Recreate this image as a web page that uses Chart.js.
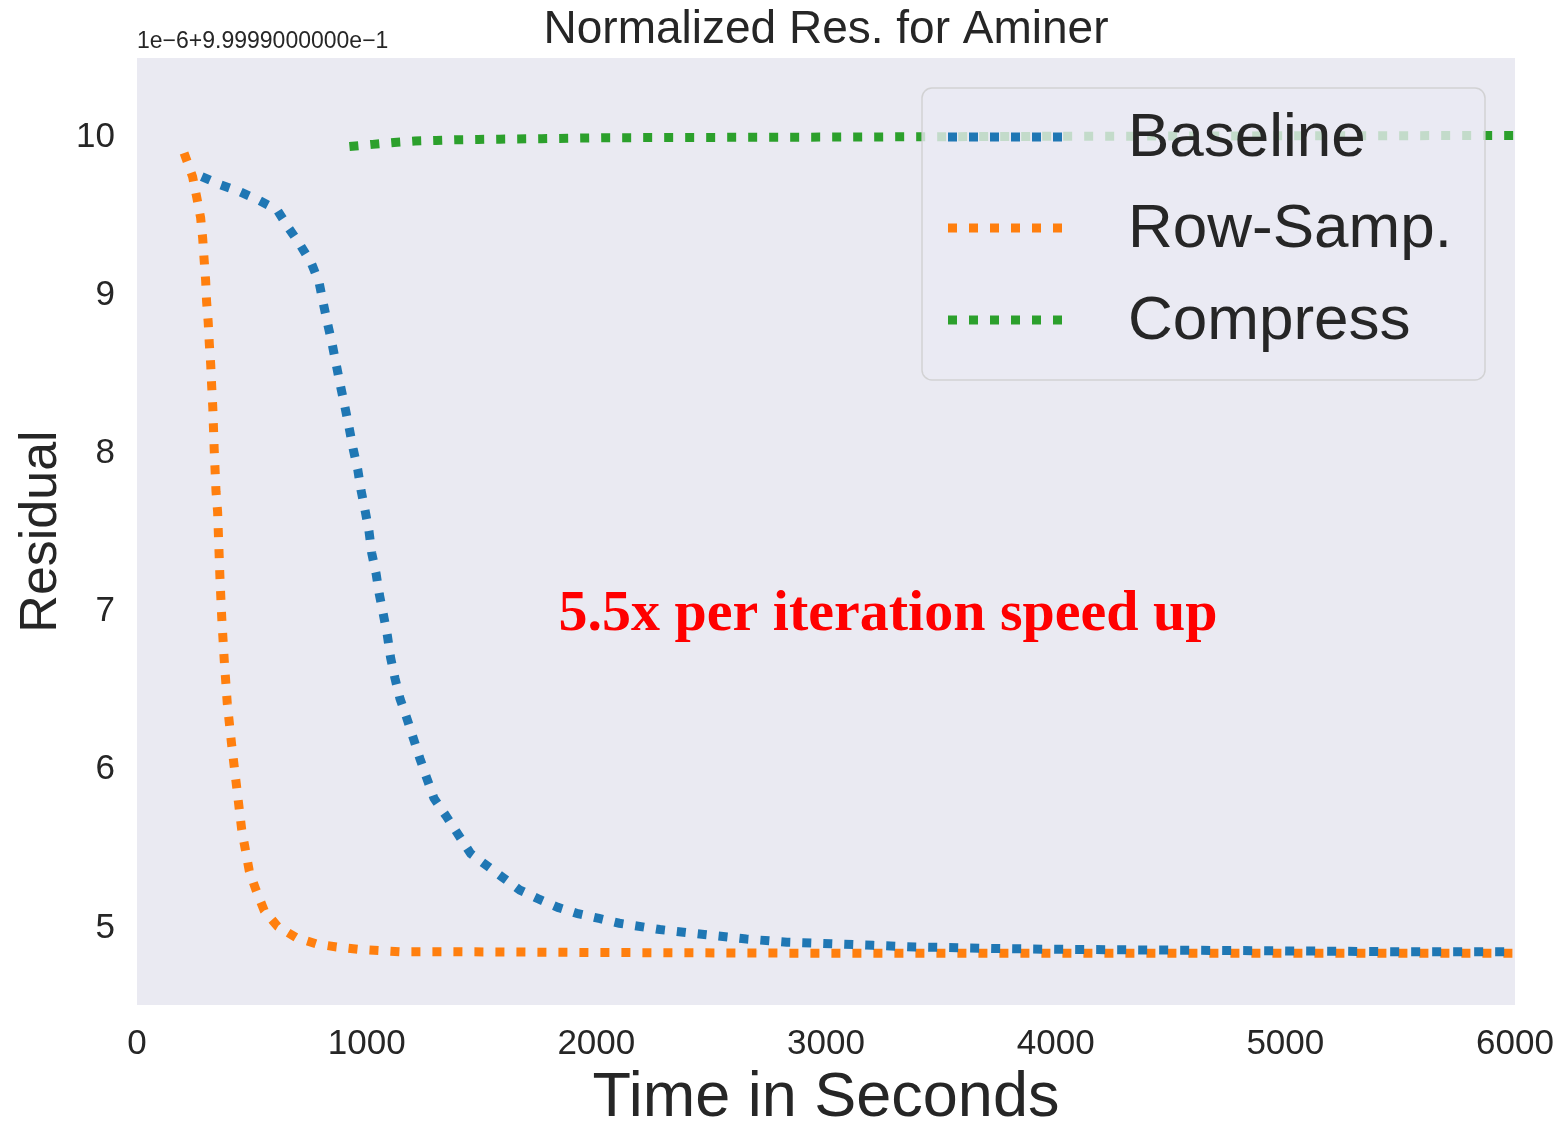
<!DOCTYPE html>
<html>
<head>
<meta charset="utf-8">
<title>Normalized Res. for Aminer</title>
<script src="https://cdn.jsdelivr.net/npm/chart.js@4.4.1/dist/chart.umd.min.js"></script>
<style>
    body { margin: 0; background: #ffffff; }
    #chart { display: block; }
</style>
</head>
<body>
<canvas id="chart" width="1560" height="1124"></canvas>
<script>
// Values (residual shown in units of 1e-6 above 0.99999)
const seriesNames = ['Baseline', 'Row-Samp.', 'Compress'];
const seriesColors = ['#1f77b4', '#ff7f0e', '#2ca02c'];

const timeBaseline = [282, 361, 448, 531, 610, 658, 710, 760, 793, 811, 830, 850, 869, 887, 906, 924, 941, 961, 975, 993,
    1010, 1022, 1041, 1055, 1073, 1090, 1104, 1123, 1145, 1174, 1203, 1232, 1261, 1293, 1345, 1453, 1592, 1667, 1753, 1833,
    1920, 2012, 2100, 2277, 2460, 2653, 2830, 3022, 3205, 3389, 3572, 3750, 4000, 4500, 5000, 5500, 6000];
const resBaseline = [9.75, 9.70, 9.655, 9.60, 9.54, 9.43, 9.32, 9.20, 9.08, 8.95, 8.82, 8.69, 8.55, 8.42, 8.29, 8.16, 8.03, 7.90, 7.77, 7.64,
    7.51, 7.37, 7.24, 7.11, 6.98, 6.85, 6.71, 6.58, 6.45, 6.33, 6.20, 6.07, 5.95, 5.82, 5.71, 5.47, 5.32, 5.24, 5.18, 5.13,
    5.09, 5.06, 5.03, 4.99, 4.96, 4.93, 4.91, 4.90, 4.89, 4.88, 4.875, 4.87, 4.865, 4.86, 4.855, 4.85, 4.85];

const timeRowSamp = [205, 242, 260, 277, 286, 292, 299, 303, 310, 315, 321, 325, 330, 336, 344, 351, 361, 369, 380, 393,
    412, 434, 456, 489, 518, 554, 612, 692, 779, 869, 964, 1145, 1334, 2000, 3000, 4000, 5000, 6000];
const resRowSamp = [9.90, 9.75, 9.62, 9.49, 9.36, 9.23, 9.09, 8.96, 8.83, 8.69, 8.56, 8.43, 8.29, 8.03, 7.76, 7.63, 7.22, 6.96, 6.69, 6.42,
    6.16, 5.89, 5.62, 5.36, 5.24, 5.11, 5.01, 4.94, 4.90, 4.88, 4.865, 4.85, 4.85, 4.845, 4.84, 4.84, 4.84, 4.84];

const timeCompress = [925, 1026, 1119, 1210, 1302, 1395, 1486, 1580, 1762, 2038, 2495, 3000, 4000, 5000, 6000];
const resCompress = [9.94, 9.954, 9.966, 9.975, 9.979, 9.983, 9.985, 9.987, 9.99, 9.996, 9.998, 10.0, 10.005, 10.008, 10.01];

const xTicks = [0, 1000, 2000, 3000, 4000, 5000, 6000];
const yTicks = [5, 6, 7, 8, 9, 10];

const chartTitle = 'Normalized Res. for Aminer';
const offsetText = '1e\u22126+9.9999000000e\u22121';
const xTitle = 'Time in Seconds';
const yTitle = 'Residual';
const noteText = '5.5x per iteration speed up';
const notePos = { x: 3270, y: 6.98 };

const TEXT = '#262626';
const SANS = '"Liberation Sans", Arial, sans-serif';
const LINE_W = 9;
const DASH = [9, 12];

function toPoints(xs, ys) {
    return xs.map((x, i) => ({ x: x, y: ys[i] }));
}

const allSeries = [
    toPoints(timeBaseline, resBaseline),
    toPoints(timeRowSamp, resRowSamp),
    toPoints(timeCompress, resCompress)
];

// Background, title, legend and note
const decorPlugin = {
    id: 'decor',
    beforeDraw(chart) {
        const { ctx, chartArea: a } = chart;
        ctx.save();
        ctx.fillStyle = '#eaeaf2';
        ctx.fillRect(a.left, a.top, a.right - a.left, a.bottom - a.top);
        ctx.restore();
    },
    afterDraw(chart) {
        const { ctx, chartArea: a, scales } = chart;
        ctx.save();

        // title
        ctx.fillStyle = TEXT;
        ctx.font = '46px ' + SANS;
        ctx.textAlign = 'center';
        ctx.textBaseline = 'middle';
        ctx.fillText(chartTitle, (a.left + a.right) / 2, 30);

        // offset text
        ctx.font = '23px ' + SANS;
        ctx.textAlign = 'left';
        ctx.fillText(offsetText, a.left, 42);

        // legend
        const box = { x: 922, y: 88, w: 563, h: 292 };
        ctx.beginPath();
        ctx.roundRect(box.x, box.y, box.w, box.h, 10);
        ctx.fillStyle = 'rgba(234, 234, 242, 0.8)';
        ctx.fill();
        ctx.lineWidth = 1.5;
        ctx.strokeStyle = 'rgba(204, 204, 204, 0.8)';
        ctx.stroke();

        const rowY = [137, 228, 320];
        chart.data.datasets.forEach((ds, i) => {
            ctx.beginPath();
            ctx.setLineDash(DASH);
            ctx.lineWidth = LINE_W;
            ctx.strokeStyle = ds.borderColor;
            ctx.moveTo(948, rowY[i]);
            ctx.lineTo(1068, rowY[i]);
            ctx.stroke();
            ctx.setLineDash([]);
            ctx.fillStyle = TEXT;
            ctx.font = '62px ' + SANS;
            ctx.textAlign = 'left';
            ctx.textBaseline = 'middle';
            ctx.fillText(ds.label, 1128, rowY[i] + 2);
        });

        // note
        ctx.fillStyle = '#ff0000';
        ctx.font = 'bold 58px "Liberation Serif", "Times New Roman", serif';
        ctx.textAlign = 'center';
        ctx.textBaseline = 'middle';
        ctx.fillText(noteText, scales.x.getPixelForValue(notePos.x), scales.y.getPixelForValue(notePos.y));

        ctx.restore();
    }
};

const ctx = document.getElementById('chart').getContext('2d');
new Chart(ctx, {
    type: 'line',
    data: {
        datasets: allSeries.map((pts, i) => ({
            label: seriesNames[i],
            data: pts,
            borderColor: seriesColors[i],
            backgroundColor: seriesColors[i],
            borderWidth: LINE_W,
            borderDash: DASH,
            pointRadius: 0,
            tension: 0,
            fill: false
        }))
    },
    options: {
        responsive: false,
        animation: false,
        layout: { padding: { top: 58, right: 45, left: 0, bottom: 0 } },
        plugins: {
            legend: { display: false },
            tooltip: { enabled: false }
        },
        scales: {
            x: {
                type: 'linear',
                min: 0,
                max: 6000,
                afterBuildTicks: s => { s.ticks = xTicks.map(v => ({ value: v })); },
                afterFit: s => {
                    s.height = 119;
                    s.paddingLeft = 0;
                    s.paddingRight = 0;
                },
                grid: { display: false, drawTicks: false },
                border: { display: false },
                ticks: {
                    color: TEXT,
                    font: { family: SANS, size: 35 },
                    padding: 18,
                    maxRotation: 0,
                    callback: v => String(v)
                },
                title: {
                    display: true,
                    text: xTitle,
                    color: TEXT,
                    font: { family: SANS, size: 63, lineHeight: 0.8 },
                    padding: 0
                }
            },
            y: {
                type: 'linear',
                min: 4.513,
                max: 10.5,
                afterBuildTicks: s => { s.ticks = yTicks.map(v => ({ value: v })); },
                afterFit: s => { s.width = 137; },
                grid: { display: false, drawTicks: false },
                border: { display: false },
                ticks: {
                    color: TEXT,
                    font: { family: SANS, size: 35 },
                    padding: 22,
                    callback: v => String(v)
                },
                title: {
                    display: true,
                    text: yTitle,
                    color: TEXT,
                    font: { family: SANS, size: 52, lineHeight: 1.2 },
                    padding: { top: 10, bottom: 0 }
                }
            }
        }
    },
    plugins: [decorPlugin]
});
</script>
</body>
</html>
